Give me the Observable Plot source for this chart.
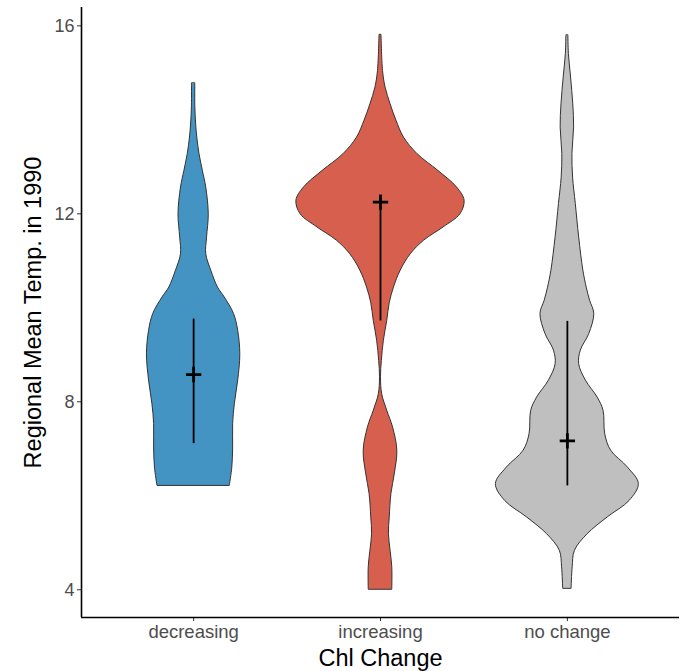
<!DOCTYPE html>
<html>
<head>
<meta charset="utf-8">
<script src="https://cdn.jsdelivr.net/npm/d3@7"></script>
<script src="https://cdn.jsdelivr.net/npm/@observablehq/plot@0.6"></script>
<style>
  html, body { margin: 0; padding: 0; background: #fff; }
  svg { font-family: "Liberation Sans", Arial, sans-serif; }
</style>
</head>
<body>
<div id="chart"></div>
<script>
// Categories and colours
const categories = ["decreasing", "increasing", "no change"];
const fills = ["#4393c3", "#d6604d", "#bfbfbf"];
const yTicks = [4, 8, 12, 16];

// Violin density profiles (temperature, relative density; max density = 1)
const decTemp = [14.77, 14.3, 13.9, 13.6, 13.27, 12.91, 12.56, 11.99, 11.5, 11.14, 10.79, 10.43, 10.22, 9.87, 9.51, 9.01, 8.45, 7.95, 7.53, 7.03, 6.6, 6.21];
const decDens = [0.02, 0.02, 0.03, 0.045, 0.07, 0.11, 0.15, 0.18, 0.16, 0.15, 0.21, 0.29, 0.37, 0.48, 0.53, 0.555, 0.53, 0.49, 0.47, 0.47, 0.46, 0.43];

const incTemp = [15.8, 15.04, 14.69, 14.33, 13.98, 13.62, 13.27, 12.91, 12.56, 12.28, 11.99, 11.71, 11.43, 11.14, 10.79, 10.43, 10.1, 9.72, 9.3, 8.87, 8.52, 8.16, 7.81, 7.45, 6.96, 6.46, 6.04, 5.54, 5.18, 4.83, 4.48, 4.0];
const incDens = [0.012, 0.03, 0.06, 0.12, 0.19, 0.28, 0.44, 0.69, 0.91, 1.0, 0.95, 0.75, 0.52, 0.36, 0.24, 0.16, 0.11, 0.08, 0.04, 0.016, 0.006, 0.02, 0.08, 0.15, 0.2, 0.17, 0.13, 0.11, 0.1, 0.12, 0.14, 0.14];

const ncTemp = [15.79, 15.4, 14.9, 14.33, 13.84, 13.27, 12.77, 12.21, 11.5, 10.79, 10.43, 10.15, 9.87, 9.44, 9.09, 8.8, 8.45, 8.09, 7.81, 7.31, 6.96, 6.6, 6.25, 5.89, 5.54, 5.18, 4.83, 4.48, 4.02];
const ncDens = [0.012, 0.018, 0.044, 0.07, 0.08, 0.06, 0.068, 0.1, 0.14, 0.19, 0.23, 0.27, 0.32, 0.26, 0.16, 0.14, 0.22, 0.36, 0.43, 0.45, 0.52, 0.72, 0.85, 0.74, 0.48, 0.24, 0.09, 0.063, 0.05];

// Summary: median with lower/upper range
const sumLow = [7.11, 9.72, 6.21];
const sumMed = [8.58, 12.25, 7.17];
const sumHigh = [9.76, 12.25, 9.71];

const temps = [decTemp, incTemp, ncTemp];
const dens = [decDens, incDens, ncDens];

const violinHalf = 0.45; // ggplot default width 0.9
const violins = categories.map((c, i) =>
  temps[i].map((t, k) => ({cat: c, pos: i + 1, temp: t, d: dens[i][k]}))
);
const summary = categories.map((c, i) => ({cat: c, pos: i + 1, lo: sumLow[i], med: sumMed[i], hi: sumHigh[i]}));

const yMin = 4, yMax = 15.8, pad = (yMax - yMin) * 0.05;

const chart = Plot.plot({
  width: 685,
  height: 671,
  marginLeft: 81,
  marginRight: 6,
  marginTop: 7,
  marginBottom: 54,
  style: {fontFamily: "'Liberation Sans', Arial, sans-serif", background: "#fff"},
  x: {domain: [0.4, 3.6]},
  y: {domain: [yMin - pad, yMax + pad]},
  marks: [
    ...violins.map((v, i) => Plot.areaX(v, {
      y: "temp",
      x1: d => d.pos - d.d * violinHalf,
      x2: d => d.pos + d.d * violinHalf,
      fill: fills[i],
      stroke: "#333333",
      strokeWidth: 1,
      curve: "catmull-rom"
    })),
    Plot.ruleX(summary, {x: "pos", y1: "lo", y2: "hi", stroke: "black", strokeWidth: 1.8}),
    Plot.dot(summary, {x: "pos", y: "med", symbol: "plus", r: 5, stroke: "black", strokeWidth: 2.8}),
    Plot.axisY({ticks: yTicks, tickSize: 4, tickPadding: 3, fontSize: 18, label: null, stroke: "#333", fill: "#4d4d4d"}),
    Plot.axisX({ticks: [1, 2, 3], tickFormat: i => categories[i - 1], tickSize: 4, tickPadding: 3, fontSize: 18.5, label: null, stroke: "#333", fill: "#4d4d4d"}),
    Plot.ruleX([0.4], {stroke: "black", strokeWidth: 1.6}),
    Plot.ruleY([yMin - pad], {stroke: "black", strokeWidth: 1.6}),
    Plot.text(["Regional Mean Temp. in 1990"], {frameAnchor: "left", textAnchor: "middle", lineAnchor: "middle", rotate: -90, dx: -48, fontSize: 23.5, fill: "black"}),
    Plot.text(["Chl Change"], {frameAnchor: "bottom", textAnchor: "middle", lineAnchor: "middle", dy: 41, fontSize: 23.5, fill: "black"})
  ]
});
document.getElementById("chart").appendChild(chart);
</script>
</body>
</html>
